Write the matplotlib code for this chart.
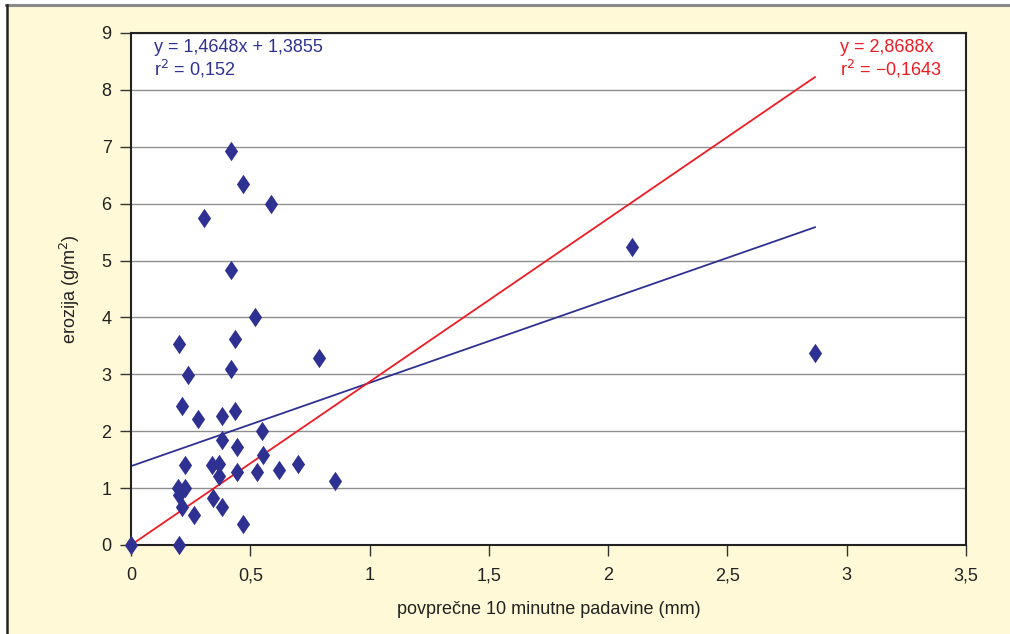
import matplotlib.pyplot as plt
from matplotlib.lines import Line2D
from matplotlib.path import Path
from matplotlib.ticker import FuncFormatter

# %% Data

padavine = [0.0, 0.2, 0.2, 0.306, 0.42, 0.47, 0.587, 0.42, 0.52, 0.436,
            0.42, 0.24, 0.79, 0.214, 0.28, 0.38, 0.436, 0.55, 0.38, 0.444,
            0.553, 0.226, 0.34, 0.37, 0.70, 0.37, 0.444, 0.528, 0.62, 0.855,
            0.197, 0.226, 0.2, 0.214, 0.345, 0.38, 0.264, 0.47, 2.1, 2.867]
erozija = [0.0, 0.0, 3.53, 5.75, 6.93, 6.35, 6.0, 4.83, 4.0, 3.62,
           3.10, 2.99, 3.29, 2.44, 2.22, 2.27, 2.36, 2.0, 1.84, 1.73,
           1.58, 1.41, 1.41, 1.42, 1.42, 1.21, 1.29, 1.29, 1.32, 1.12,
           1.0, 1.0, 0.87, 0.67, 0.83, 0.67, 0.53, 0.37, 5.24, 3.37]

fit_blue = (1.4648, 1.3855)
fit_red = 2.8688
fit_x = [0.0, 2.867]

NAVY = "#2e3192"
RED = "#ed1c24"
CREAM = "#fff9d7"

plt.rcParams["font.family"] = ["Liberation Sans Narrow", "Liberation Sans", "DejaVu Sans"]

# tall, narrow diamond like the Excel marker
diamond = Path([(0, 1), (0.68, 0), (0, -1), (-0.68, 0), (0, 1)],
               [Path.MOVETO, Path.LINETO, Path.LINETO, Path.LINETO, Path.CLOSEPOLY])

# %% Plot

fig = plt.figure(figsize=(10.10, 6.34), dpi=100, facecolor=CREAM)
ax = fig.add_axes([0.1297, 0.1404, 0.8267, 0.8076])

ax.set_axisbelow(True)
ax.yaxis.grid(True, color="#8f8f8f", linewidth=1.0)

ax.plot(fit_x, [fit_blue[0] * x + fit_blue[1] for x in fit_x], color=NAVY, lw=1.3, zorder=2)
ax.plot(fit_x, [fit_red * x for x in fit_x], color=RED, lw=1.3, zorder=2)
ax.plot(padavine, erozija, linestyle="none", marker=diamond, markersize=14,
        color=NAVY, markeredgewidth=0, zorder=3, clip_on=False)

ax.set_xlim(0, 3.5)
ax.set_ylim(0, 9)
ax.set_xticks([0, 0.5, 1, 1.5, 2, 2.5, 3, 3.5])
ax.set_yticks(range(10))
ax.xaxis.set_major_formatter(FuncFormatter(lambda v, p: f"{v:g}".replace(".", ",")))
ax.tick_params(axis="both", direction="out", length=8, width=1, color="#333333",
               labelsize=13, labelcolor="#222222")
ax.tick_params(axis="x", pad=8)
ax.tick_params(axis="y", pad=6)
for s in ax.spines.values():
    s.set_color("#222222")
    s.set_linewidth(1.5)

ax.set_xlabel("povprečne 10 minutne padavine (mm)", fontsize=13, color="#222222", labelpad=12)
ax.set_ylabel("erozija (g/m$^2$)", fontsize=13, color="#222222", labelpad=14)

ax.text(0.028, 0.988, "y = 1,4648x + 1,3855\nr$^2$ = 0,152", transform=ax.transAxes,
        color=NAVY, fontsize=13, va="top", ha="left", linespacing=1.1)
ax.text(0.849, 0.988, "y = 2,8688x\nr$^2$ = \u22120,1643", transform=ax.transAxes,
        color=RED, fontsize=13, va="top", ha="left", linespacing=1.1)

# frame of the figure: gray line on top, dark line on the left
fig.add_artist(Line2D([6 / 1010, 1.0], [1 - 5 / 634, 1 - 5 / 634], color="#8a8a8a", lw=2.2))
fig.add_artist(Line2D([6.5 / 1010, 6.5 / 1010], [0, 1 - 5 / 634], color="#222222", lw=1.8))
fig.add_artist(plt.Rectangle((0, 1 - 4 / 634), 1, 4 / 634, color="white", zorder=-1))
fig.add_artist(plt.Rectangle((0, 0), 6 / 1010, 1, color="white", zorder=-1))

fig.savefig("out.png", dpi=100, facecolor=CREAM)
